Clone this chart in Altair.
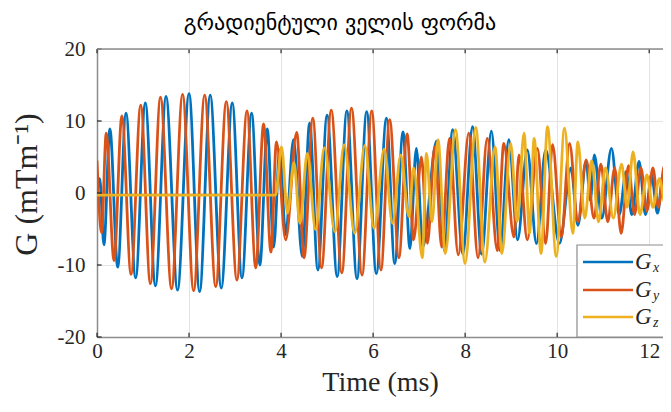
import altair as alt
import pandas as pd

TITLE = "გრადიენტული ველის ფორმა"
X_TITLE = "Time (ms)"
Y_TITLE = "G (mTm⁻¹)"
series_subs = ["x", "y", "z"]
series_colors = ["#0072BD", "#D95319", "#EDB120"]
x_ticks = [0, 2, 4, 6, 8, 10, 12]
y_ticks = [-20, -10, 0, 10, 20]

# Gx extrema (time ms, value mT/m)
gx_t = [0.00, 0.06, 0.15, 0.28, 0.45, 0.63, 0.84, 1.05, 1.27, 1.50,
        1.75, 2.00, 2.23, 2.46, 2.70, 2.94, 3.15, 3.36, 3.54, 3.70,
        3.84, 3.97, 4.10, 4.27, 4.46, 4.62, 4.80, 5.00, 5.22, 5.43,
        5.65, 5.86, 6.07, 6.29, 6.47, 6.65, 6.80, 6.94, 7.08, 7.38,
        7.55, 7.73, 7.95, 8.16, 8.36, 8.57, 8.76, 8.95, 9.14, 9.35,
        9.55, 9.75, 10.05, 10.30, 10.45, 10.63, 10.72, 10.81, 10.97, 11.18,
        11.35, 11.50, 11.62, 11.78, 11.92, 12.05, 12.18, 12.30, 12.42, 12.50]
gx_v = [0.0, 2.0, -7.2, 8.9, -10.3, 11.1, -11.8, 12.5, -12.9, 13.4,
        -13.5, 13.8, -13.7, 13.6, -13.2, 12.5, -11.8, 11.1, -10.0, 8.9,
        -7.5, 6.0, -5.8, 7.4, -8.8, 9.7, -10.7, 10.8, -11.6, 11.4,
        -11.9, 11.3, -11.2, 10.4, -9.8, 8.5, -7.7, 6.2, -7.5, 7.2,
        -8.0, 8.8, -8.5, 9.2, -8.5, 8.6, -8.0, 7.4, -6.5, 6.0,
        -7.0, 6.0, -7.0, 3.5, -4.5, 4.4, -1.0, 5.3, -3.5, 6.2,
        -3.0, 3.0, -3.0, 4.4, -3.0, 2.5, -2.8, 2.5, -2.5, 0.5]

# Gy extrema
gy_t = [0.00, 0.10, 0.20, 0.37, 0.54, 0.74, 0.95, 1.16, 1.38, 1.62,
        1.86, 2.10, 2.34, 2.58, 2.81, 3.04, 3.26, 3.45, 3.62, 3.78,
        3.90, 4.10, 4.34, 4.50, 4.69, 4.88, 5.09, 5.32, 5.53, 5.76,
        5.97, 6.17, 6.36, 6.56, 6.74, 6.88, 7.05, 7.18, 7.34, 7.49,
        7.66, 7.85, 8.08, 8.28, 8.48, 8.70, 8.84, 9.06, 9.17, 9.35,
        9.57, 9.75, 9.90, 10.09, 10.27, 10.45, 10.63, 10.80, 10.95, 11.10,
        11.25, 11.39, 11.55, 11.68, 11.82, 11.95, 12.08, 12.20, 12.33, 12.45,
        12.50]
gy_v = [4.5, -5.5, 8.3, -9.4, 10.7, -11.3, 12.2, -12.6, 13.3, -13.3,
        13.7, -13.6, 13.6, -13.0, 12.7, -12.1, 11.4, -10.4, 9.6, -8.2,
        7.1, -6.5, 8.4, -9.0, 10.4, -10.4, 11.5, -11.1, 11.8, -11.4,
        11.4, -10.7, 10.2, -9.0, 8.2, -6.5, 5.0, -7.0, 6.4, -7.5,
        7.6, -8.6, 8.3, -9.0, 7.6, -8.0, 6.9, -6.1, 5.3, -6.5,
        6.2, -7.0, 6.7, -6.1, 6.9, -4.0, 4.6, -3.5, 4.0, -4.0,
        3.5, -5.6, 3.8, -3.0, 3.5, -2.5, 3.5, -2.0, 3.8, -2.5,
        0.0]

# Gz extrema
gz_t = [0.00, 3.88, 4.01, 4.14, 4.28, 4.41, 4.57, 4.75, 4.94, 5.17,
        5.37, 5.60, 5.82, 6.02, 6.24, 6.42, 6.60, 6.78, 6.88, 7.07,
        7.16, 7.28, 7.41, 7.57, 7.79, 8.00, 8.23, 8.43, 8.65, 8.80,
        8.99, 9.13, 9.28, 9.40, 9.50, 9.65, 9.79, 9.98, 10.16, 10.34,
        10.45, 10.60, 10.75, 10.90, 11.05, 11.22, 11.40, 11.52, 11.65, 11.80,
        11.95, 12.08, 12.22, 12.35, 12.50]
gz_v = [-0.3, -0.3, 6.4, -2.8, 4.2, -4.2, 5.5, -5.1, 6.3, -5.4,
        6.7, -5.6, 6.6, -4.9, 6.1, -4.2, 5.3, -3.3, 3.5, -9.0,
        5.5, -4.0, 7.4, -8.4, 8.8, -9.8, 9.1, -9.6, 6.4, -8.4,
        6.9, -4.0, 8.3, -5.6, 7.6, -8.4, 9.2, -8.8, 9.0, -5.6,
        7.1, -3.5, 4.5, -4.0, 3.5, -3.5, 4.0, -2.0, 5.7, -3.0,
        2.5, -2.0, 2.0, -1.5, 1.0]

W, H = 566, 288
XMAX = 12.3
TXT = "#262626"
FRAME = "#8c8c8c"
SERIF = "Liberation Serif"

xscale = alt.Scale(domain=[0, XMAX], nice=False, zero=False)
yscale = alt.Scale(domain=[-20, 20], nice=False, zero=False)

xaxis = alt.Axis(values=x_ticks, title=X_TITLE, labelFont=SERIF, labelFontSize=21,
                 labelColor=TXT, labelPadding=3, ticks=False, domainColor=FRAME,
                 domainWidth=1.5, gridColor="#e3e3e3", gridWidth=1,
                 titleFont=SERIF, titleFontSize=28, titleFontWeight="normal",
                 titleColor=TXT, titleY=53, titleBaseline="alphabetic",
                 labelFlush=False, labelExpr="'' + datum.value")
yaxis = alt.Axis(values=y_ticks, title=Y_TITLE, labelFont=SERIF, labelFontSize=21,
                 labelColor=TXT, labelPadding=12, ticks=False, domainColor=FRAME,
                 domainWidth=1.5, gridColor="#e3e3e3", gridWidth=1,
                 titleFont=SERIF, titleFontSize=32, titleFontWeight="normal",
                 titleColor=TXT, titleAngle=270, titleX=-61, titleY=135,
                 titleAlign="center", titleBaseline="alphabetic",
                 labelFlush=False, labelExpr="'' + datum.value")


def series_layer(ts, vs, color):
    df = pd.DataFrame({"t": ts, "v": vs})
    return alt.Chart(df).mark_line(color=color, strokeWidth=2.8,
                                   interpolate="monotone", clip=True,
                                   strokeJoin="round").encode(
        x=alt.X("t:Q", scale=xscale, axis=xaxis),
        y=alt.Y("v:Q", scale=yscale, axis=yaxis),
    )


one = pd.DataFrame({"a": [0]})
xt_df = pd.DataFrame({"t": x_ticks})
yt_df = pd.DataFrame({"v": y_ticks})

layers = [
    series_layer(gx_t, gx_v, series_colors[0]),
    series_layer(gy_t, gy_v, series_colors[1]),
    series_layer(gz_t, gz_v, series_colors[2]),
    # inner ticks (bottom and top)
    alt.Chart(xt_df).mark_rule(color=TXT, strokeWidth=1.2).encode(
        x=alt.X("t:Q", scale=xscale, axis=xaxis), y=alt.datum(-20), y2=alt.datum(-19.4)),
    alt.Chart(xt_df).mark_rule(color=TXT, strokeWidth=1.2).encode(
        x=alt.X("t:Q", scale=xscale, axis=xaxis), y=alt.datum(20), y2=alt.datum(19.4)),
    alt.Chart(yt_df).mark_rule(color=TXT, strokeWidth=1.2).encode(
        y=alt.Y("v:Q", scale=yscale, axis=yaxis), x=alt.datum(0), x2=alt.datum(0.1)),
    # top frame line
    alt.Chart(one).mark_rule(color=FRAME, strokeWidth=1.5).encode(
        x=alt.value(0), x2=alt.value(W), y=alt.value(0)),
    # legend box
    alt.Chart(one).mark_rect(fill="white", stroke=FRAME, strokeWidth=1.2).encode(
        x=alt.value(480), x2=alt.value(W + 6), y=alt.value(196), y2=alt.value(288)),
    # chart title
    alt.Chart(one).mark_text(font="DejaVu Sans", fontSize=22, color="black",
                             align="center", baseline="alphabetic").encode(
        x=alt.value(243), y=alt.value(-19), text=alt.value(TITLE)),
]

leg_y = [213, 241, 268]
for sub, col, yy in zip(series_subs, series_colors, leg_y):
    layers.append(alt.Chart(one).mark_rule(color=col, strokeWidth=2.6).encode(
        x=alt.value(486), x2=alt.value(536), y=alt.value(yy)))
    layers.append(alt.Chart(one).mark_text(font=SERIF, fontStyle="italic", fontSize=23,
                                           align="left", baseline="alphabetic",
                                           color=TXT).encode(
        x=alt.value(538), y=alt.value(yy + 7), text=alt.value("G")))
    layers.append(alt.Chart(one).mark_text(font=SERIF, fontStyle="italic", fontSize=14,
                                           align="left", baseline="alphabetic",
                                           color=TXT).encode(
        x=alt.value(556), y=alt.value(yy + 10), text=alt.value(sub)))

chart = alt.layer(*layers).properties(
    width=W, height=H,
    autosize=alt.AutoSizeParams(type="none"),
    padding={"left": 89, "top": 41, "right": 0, "bottom": 61},
).configure_view(stroke=None).configure(background="white")

chart.save("out.html", embed_options={"renderer": "svg", "actions": False})
